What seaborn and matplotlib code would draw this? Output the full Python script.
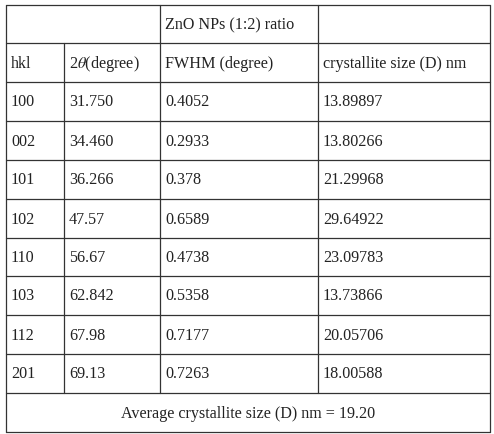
import matplotlib
matplotlib.use("Agg")
import matplotlib.pyplot as plt
import seaborn as sns

sns.set_theme(style="white")
plt.rcParams['font.family'] = ['Liberation Serif', 'DejaVu Serif']
plt.rcParams['mathtext.fontset'] = 'stix'

header_top = "ZnO NPs (1:2) ratio"
columns = ["hkl", "2$\\theta$(degree)", "FWHM (degree)", "crystallite size (D) nm"]
hkl = ["100", "002", "101", "102", "110", "103", "112", "201"]
two_theta = ["31.750", "34.460", "36.266", "47.57", "56.67", "62.842", "67.98", "69.13"]
fwhm = ["0.4052", "0.2933", "0.378", "0.6589", "0.4738", "0.5358", "0.7177", "0.7263"]
size = ["13.89897", "13.80266", "21.29968", "29.64922", "23.09783", "13.73866", "20.05706", "18.00588"]
footer = "Average crystallite size (D) nm = 19.20"

W, H = 494, 434
fig = plt.figure(figsize=(W / 100, H / 100), dpi=100)
ax = fig.add_axes([0, 0, 1, 1])
ax.set_xlim(0, W)
ax.set_ylim(H, 0)
ax.axis("off")

xl, xr = 6, 490
rows = [5, 43, 82, 121, 160, 199, 238, 276, 315, 354, 393, 432]
lc = "#333333"
lw = 0.9
for y in rows:
    ax.plot([xl, xr], [y, y], color=lc, lw=lw)
ax.plot([xl, xl], [rows[0], rows[-1]], color=lc, lw=lw)
ax.plot([xr, xr], [rows[0], rows[-1]], color=lc, lw=lw)
ax.plot([64, 64], [rows[1], rows[-2]], color=lc, lw=lw)
for x in (160, 318):
    ax.plot([x, x], [rows[0], rows[-2]], color=lc, lw=lw)

fs = 11.6
tx = [11, 69, 165, 323]
def put(col, r, s):
    ax.text(tx[col], (rows[r] + rows[r + 1]) / 2 + 5, s, fontsize=fs, va="baseline", ha="left", color="#222222")

put(2, 0, header_top)
for c, s in enumerate(columns):
    put(c, 1, s)
for i in range(len(hkl)):
    for c, s in enumerate([hkl[i], two_theta[i], fwhm[i], size[i]]):
        put(c, i + 2, s)
ax.text((xl + xr) / 2, (rows[-2] + rows[-1]) / 2 + 5, footer, fontsize=fs, ha="center", va="baseline", color="#222222")

fig.savefig("out.png", dpi=100)
